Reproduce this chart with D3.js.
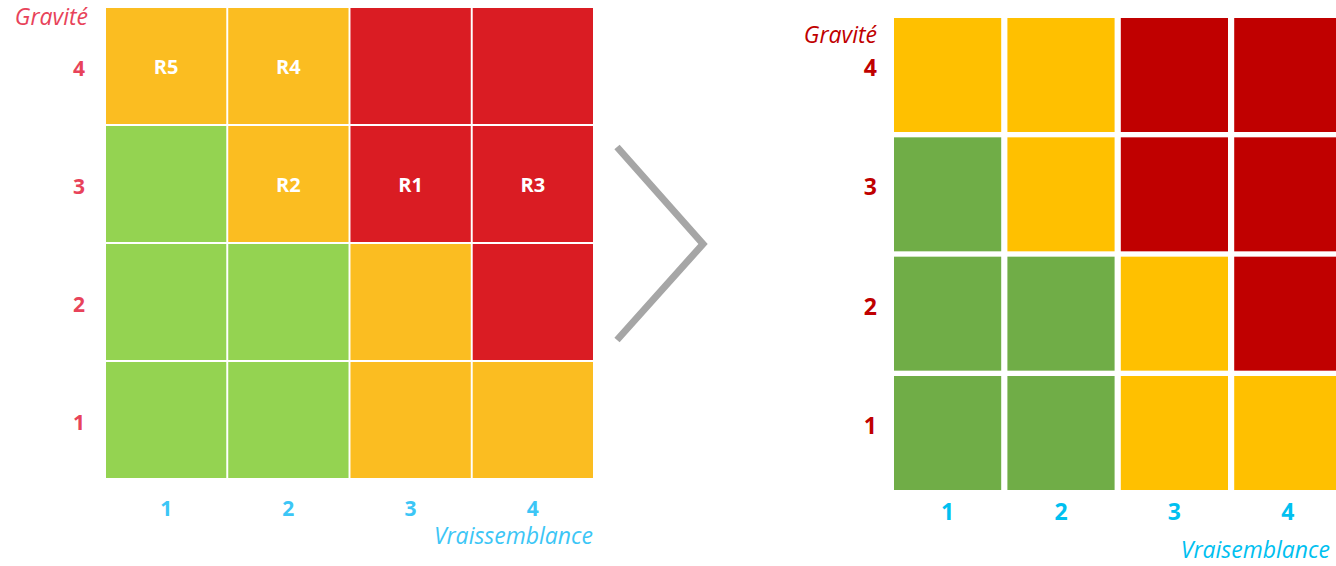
<html>
  <head>
    <meta charset="utf-8"/>
    <style>
      body {
        margin: 0;
        background: white;
      }
      text {
        font-family: "Open Sans", "Noto Sans", sans-serif;
      }
    </style>
    <script src="https://d3js.org/d3.v7.min.js"></script>
  </head>
  <body>
    <script>
    var width = 1336, height = 566;

    // likelihood (x) and severity (y) levels
    var vraisemblance = [1, 2, 3, 4];
    var gravite = [4, 3, 2, 1];
    // risk level per cell, rows = gravité 4..1, cols = vraisemblance 1..4
    var levels = [
      ["O", "O", "R", "R"],
      ["G", "O", "R", "R"],
      ["G", "G", "O", "R"],
      ["G", "G", "O", "O"]
    ];
    var riskNames = ["R5", "R4", "R2", "R1", "R3"];
    var riskV = [1, 2, 2, 3, 4];
    var riskG = [4, 4, 3, 3, 3];

    var svg = d3.select("body").append("svg")
      .attr("width", width).attr("height", height);

    var cells = [];
    gravite.forEach((g, i) => vraisemblance.forEach((v, j) => {
      cells.push({v: v, g: g, level: levels[i][j]});
    }));

    function matrix(opt) {
      var x = d3.scaleBand().domain(vraisemblance).range(opt.xr).paddingInner(opt.pad[0]);
      var y = d3.scaleBand().domain(gravite).range(opt.yr).paddingInner(opt.pad[1]);
      var g = svg.append("g");

      g.selectAll("rect").data(cells).enter().append("rect")
        .attr("x", d => x(d.v))
        .attr("y", d => y(d.g))
        .attr("width", x.bandwidth())
        .attr("height", y.bandwidth())
        .attr("fill", d => opt.colors[d.level]);

      g.selectAll(".ytick").data(gravite).enter().append("text")
        .attr("class", "ytick")
        .attr("x", opt.yLabelX)
        .attr("y", d => y(d) + y.bandwidth() / 2 + opt.yLabelDy)
        .attr("text-anchor", "end")
        .attr("dominant-baseline", "middle")
        .attr("font-size", opt.tickSize).attr("font-weight", "bold")
        .attr("fill", opt.yColor)
        .text(d => d);

      g.selectAll(".xtick").data(vraisemblance).enter().append("text")
        .attr("class", "xtick")
        .attr("x", d => x(d) + x.bandwidth() / 2)
        .attr("y", opt.xLabelY)
        .attr("text-anchor", "middle")
        .attr("dominant-baseline", "middle")
        .attr("font-size", opt.tickSize).attr("font-weight", "bold")
        .attr("fill", opt.xColor)
        .text(d => d);

      g.append("text")
        .attr("x", opt.gravX).attr("y", opt.gravY)
        .attr("text-anchor", "end")
        .attr("dominant-baseline", "middle")
        .attr("font-size", 23).attr("font-style", "italic")
        .attr("fill", opt.yColor)
        .text("Gravité");

      g.append("text")
        .attr("x", opt.vraiX).attr("y", opt.vraiY)
        .attr("text-anchor", "end")
        .attr("dominant-baseline", "middle")
        .attr("font-size", 23).attr("font-style", "italic")
        .attr("fill", opt.xColor)
        .text(opt.vraiText);

      return {x: x, y: y, g: g};
    }

    var left = matrix({
      xr: [106, 593], yr: [8, 478], pad: [0.016, 0.017],
      colors: {G: "#94d351", O: "#fbbd21", R: "#da1c23"},
      yColor: "#e8435a", xColor: "#3cc6f6", tickSize: 21,
      yLabelX: 85, yLabelDy: 4, xLabelY: 510,
      gravX: 88, gravY: 19,
      vraiX: 593, vraiY: 538, vraiText: "Vraissemblance"
    });

    left.g.selectAll(".risk").data(riskNames).enter().append("text")
      .attr("class", "risk")
      .attr("x", (d, i) => left.x(riskV[i]) + left.x.bandwidth() / 2)
      .attr("y", (d, i) => left.y(riskG[i]) + left.y.bandwidth() / 2 + 3)
      .attr("text-anchor", "middle")
      .attr("dominant-baseline", "middle")
      .attr("font-size", 20).attr("font-weight", "bold")
      .attr("fill", "white")
      .text(d => d);

    // chevron between the two matrices
    svg.append("path")
      .attr("d", d3.line()([[617, 147], [703, 244], [617, 340]]))
      .attr("fill", "none")
      .attr("stroke", "#a6a6a6")
      .attr("stroke-width", 7);

    var right = matrix({
      xr: [894, 1341.4], yr: [18, 490], pad: [0.0547, 0.0447],
      colors: {G: "#70ad47", O: "#ffc000", R: "#c00000"},
      yColor: "#c00000", xColor: "#00c0f0", tickSize: 23,
      yLabelX: 877, yLabelDy: -5, xLabelY: 514,
      gravX: 877, gravY: 37,
      vraiX: 1330, vraiY: 552, vraiText: "Vraisemblance"
    });
    </script>
  </body>
</html>
